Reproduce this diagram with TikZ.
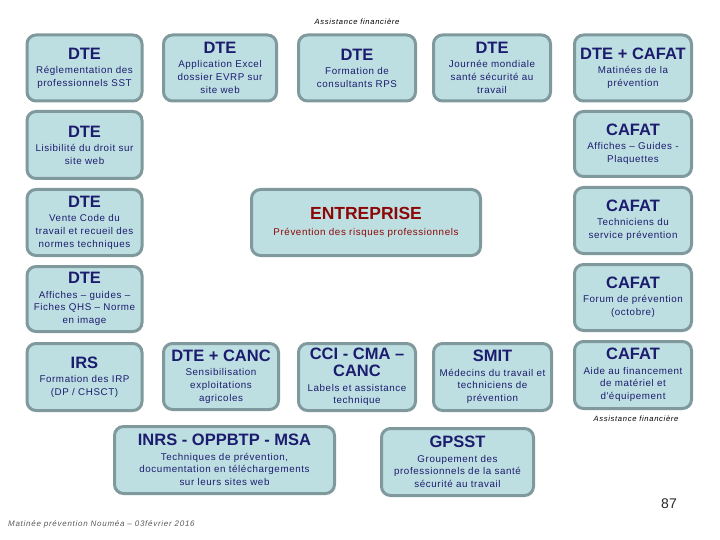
\documentclass[tikz,border=0pt]{standalone}
\usepackage{fontspec}
\setmainfont{Liberation Sans}
\newfontfamily\spfont[LetterSpace=6]{Liberation Sans}
\newfontfamily\nfont{Liberation Sans}
\newfontfamily\wfont[LetterSpace=9]{Liberation Sans}
\definecolor{boxc}{RGB}{190,223,226}
\definecolor{bordc}{RGB}{127,153,157}
\definecolor{navy}{RGB}{28,28,110}
\definecolor{dred}{RGB}{140,8,8}
\definecolor{footc}{RGB}{90,90,90}
\tikzset{
  box/.style={draw=bordc, fill=boxc, line width=3pt, rounded corners=9pt,
    align=center, inner sep=2pt, text=navy, font=\spfont\fontsize{9.8}{12.8}\selectfont},
  note/.style={font=\wfont\itshape\fontsize{7.6}{9}\selectfont, text=black, inner sep=0pt},
}
\newcommand\ttl[1]{{\nfont\fontsize{16.5}{18}\selectfont\bfseries #1}\\[1.5pt]}
\newcommand\ttlline[1]{{\nfont\fontsize{16.5}{18}\selectfont\bfseries #1}\\[4.5pt]}
\begin{document}
\begin{tikzpicture}[x=1pt,y=-1pt]
\useasboundingbox (0,0) rectangle (720,540);
% top row
\node[box, minimum width=115, minimum height=66] (t1) at (84.5,68) {\ttl{DTE}Réglementation des\\professionnels SST};
\node[box, minimum width=113, minimum height=66] (t2) at (220,68) {\ttl{DTE}Application Excel\\dossier EVRP sur\\site web};
\node[box, minimum width=117, minimum height=66] (t3) at (357,68) {\ttl{DTE}Formation de\\consultants RPS};
\node[box, minimum width=117, minimum height=66] (t4) at (492,68) {\ttl{DTE}Journée mondiale\\santé sécurité au\\travail};
\node[box, minimum width=117, minimum height=66] (t5) at (633,68) {\ttl{DTE + CAFAT}Matinées de la\\prévention};
% left column
\node[box, minimum width=115, minimum height=67] (l1) at (84.5,145) {\ttl{DTE}Lisibilité du droit sur\\site web};
\node[box, minimum width=115, minimum height=66] (l2) at (84.5,222.5) {\ttl{DTE}Vente Code du\\travail et recueil des\\normes techniques};
\node[box, minimum width=115, minimum height=65] (l3) at (84.5,299) {\ttl{DTE}Affiches – guides –\\Fiches QHS – Norme\\en image};
% right column
\node[box, minimum width=117, minimum height=65] (r1) at (633,144) {\ttl{CAFAT}Affiches – Guides -\\Plaquettes};
\node[box, minimum width=117, minimum height=66] (r2) at (633,220.5) {\ttl{CAFAT}Techniciens du\\service prévention};
\node[box, minimum width=117, minimum height=66] (r3) at (633,297.5) {\ttl{CAFAT}Forum de prévention\\(octobre)};
% center
\node[box, text=dred, minimum width=229, minimum height=66] (ent) at (366,222.5) {{\nfont\fontsize{17.5}{19}\selectfont\bfseries ENTREPRISE}\\[2.5pt]Prévention des risques professionnels};
% bottom row
\node[box, minimum width=115, minimum height=67] (b1) at (84.5,377) {\ttl{IRS}Formation des IRP\\(DP / CHSCT)};
\node[box, minimum width=115, minimum height=66] (b2) at (221,376.5) {\ttl{DTE + CANC}Sensibilisation\\exploitations\\agricoles};
\node[box, minimum width=117, minimum height=67] (b3) at (357,377) {\ttlline{CCI - CMA –}\ttl{CANC}Labels et assistance\\technique};
\node[box, minimum width=118, minimum height=67] (b4) at (492.5,377) {\ttl{SMIT}Médecins du travail et\\techniciens de\\prévention};
\node[box, minimum width=117, minimum height=67] (b5) at (633,375) {\ttl{CAFAT}Aide au financement\\de matériel et\\d'équipement};
% lowest row
\node[box, minimum width=220, minimum height=67] (inrs) at (224.5,460) {\ttl{INRS - OPPBTP - MSA}Techniques de prévention,\\documentation en téléchargements\\sur leurs sites web};
\node[box, minimum width=152, minimum height=67] (gpsst) at (457.5,462) {\ttl{GPSST}Groupement des\\professionnels de la santé\\sécurité au travail};
% notes
\node[note] (af1) at (357,22) {Assistance financière};
\node[note] (af2) at (636,419) {Assistance financière};
\node[font=\nfont\fontsize{14}{16}\selectfont, text=black!85, inner sep=0pt] (pg) at (669,504) {87};
\node[font=\wfont\itshape\fontsize{8}{9}\selectfont, text=footc, inner sep=0pt, anchor=west] (foot) at (8,524) {Matinée prévention Nouméa – 03février 2016};
\end{tikzpicture}
\end{document}
